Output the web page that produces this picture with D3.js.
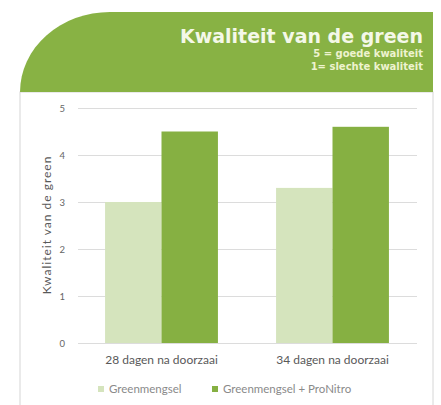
<!DOCTYPE html>
<html>
<head>
<meta charset="utf-8">
<script src="https://cdn.jsdelivr.net/npm/d3@7"></script>
<style>
  body { margin: 0; background: #fff; }
  text { font-family: Lato, "Open Sans", sans-serif; }
</style>
</head>
<body>
<div id="chart"></div>
<script>
// data
const categories = ["28 dagen na doorzaai", "34 dagen na doorzaai"];
const seriesNames = ["Greenmengsel", "Greenmengsel + ProNitro"];
const greenmengsel = [3.0, 3.3];
const proNitro = [4.5, 4.6];
const yTicks = [0, 1, 2, 3, 4, 5];
const colors = ["#d5e4bd", "#86b042"];

function main() {
    const width = 441;
    const height = 405;

    const svg = d3.select("#chart")
        .append("svg")
        .attr("width", width)
        .attr("height", height);

    // panel + header shape
    svg.append("rect")
        .attr("x", 20).attr("y", 92)
        .attr("width", 413).attr("height", 330)
        .attr("fill", "#fff")
        .attr("stroke", "#d6d6d6");

    svg.append("path")
        .attr("d", "M20,92 A90,80 0 0 1 110,12 L433,12 L433,92 Z")
        .attr("fill", "#88b244");

    svg.append("text")
        .attr("x", 423).attr("y", 43)
        .attr("text-anchor", "end")
        .attr("fill", "#f4f8e8")
        .attr("font-size", 19)
        .attr("font-weight", "bold")
        .style("font-family", "'DejaVu Sans', sans-serif")
        .text("Kwaliteit van de green");

    const sub = svg.append("text")
        .attr("text-anchor", "end")
        .attr("fill", "#eef3cf")
        .attr("font-size", 10)
        .attr("font-weight", "bold")
        .style("font-family", "'DejaVu Sans', sans-serif");
    sub.append("tspan").attr("x", 423).attr("y", 57).text("5 = goede kwaliteit");
    sub.append("tspan").attr("x", 423).attr("y", 70).text("1= slechte kwaliteit");

    // scales
    const y = d3.scaleLinear().domain([0, 5]).range([343, 108]);
    const x0 = d3.scaleBand().domain(categories).range([76, 418])
        .paddingInner(0.34).paddingOuter(0.17);
    const x1 = d3.scaleBand().domain(seriesNames).range([0, x0.bandwidth()]);

    // grid + y ticks
    const yAxis = svg.append("g")
        .attr("transform", "translate(78,0)")
        .call(d3.axisLeft(y).tickValues(yTicks).tickFormat(d3.format("d"))
            .tickSize(-339).tickPadding(13));
    yAxis.select(".domain").remove();
    yAxis.selectAll(".tick line").attr("stroke", "#dcdcdc");
    yAxis.selectAll(".tick text")
        .attr("fill", "#666")
        .attr("font-size", 9.5)
        .style("font-family", "Lato, sans-serif");

    // bars
    const rows = categories.map((c, i) => ({
        cat: c,
        vals: [
            { name: seriesNames[0], v: greenmengsel[i] },
            { name: seriesNames[1], v: proNitro[i] }
        ]
    }));

    svg.selectAll("g.cat")
        .data(rows)
        .enter()
        .append("g")
        .attr("class", "cat")
        .attr("transform", d => "translate(" + x0(d.cat) + ",0)")
        .selectAll("rect")
        .data(d => d.vals)
        .enter()
        .append("rect")
        .attr("x", d => x1(d.name))
        .attr("width", x1.bandwidth())
        .attr("y", d => y(d.v))
        .attr("height", d => y(0) - y(d.v))
        .attr("fill", (d, i) => colors[i]);

    // category labels
    svg.selectAll("text.cat")
        .data(categories)
        .enter()
        .append("text")
        .attr("class", "cat")
        .attr("x", d => x0(d) + x0.bandwidth() / 2)
        .attr("y", 364)
        .attr("text-anchor", "middle")
        .attr("fill", "#595959")
        .attr("font-size", 12)
        .text(d => d);

    // y axis title
    svg.append("text")
        .attr("transform", "translate(51,225) rotate(-90)")
        .attr("text-anchor", "middle")
        .attr("fill", "#595959")
        .attr("font-size", 12)
        .attr("letter-spacing", 1)
        .text("Kwaliteit van de green");

    // legend
    const legendX = [98, 212];
    const lg = svg.selectAll("g.legend")
        .data(seriesNames)
        .enter()
        .append("g")
        .attr("class", "legend")
        .attr("transform", (d, i) => "translate(" + legendX[i] + ",389)");
    lg.append("rect")
        .attr("y", -3).attr("width", 6).attr("height", 6)
        .attr("fill", (d, i) => colors[i]);
    lg.append("text")
        .attr("x", 11).attr("y", 4)
        .attr("fill", "#8a8a8a")
        .attr("font-size", 11.5)
        .text(d => d);
}

main();
</script>
</body>
</html>
